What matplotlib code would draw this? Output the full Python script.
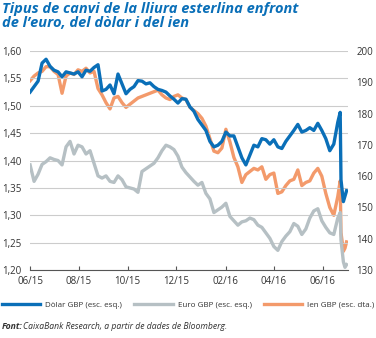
import pandas as pd
import matplotlib.pyplot as plt
import matplotlib.dates as mdates
from matplotlib.ticker import FuncFormatter

# dates: every 5 days from 01/06/2015, plus the days around the referendum
dates = list(pd.date_range('2015-06-01', periods=78, freq='5D')) + \
    list(pd.to_datetime(['2016-06-23', '2016-06-24', '2016-06-27', '2016-06-29', '2016-07-01']))

# GBP/USD (left axis)
usd = [1.525, 1.535, 1.545, 1.578, 1.585, 1.572, 1.565, 1.562, 1.553, 1.562,
       1.560, 1.558, 1.562, 1.553, 1.565, 1.563, 1.570, 1.575, 1.527, 1.530,
       1.538, 1.522, 1.558, 1.540, 1.522, 1.530, 1.535, 1.546, 1.545, 1.540,
       1.542, 1.535, 1.530, 1.528, 1.525, 1.518, 1.512, 1.505, 1.513, 1.512,
       1.498, 1.490, 1.475, 1.465, 1.455, 1.435, 1.425, 1.428, 1.435, 1.452,
       1.445, 1.445, 1.425, 1.405, 1.392, 1.410, 1.428, 1.425, 1.440, 1.438,
       1.430, 1.438, 1.425, 1.422, 1.435, 1.445, 1.455, 1.466, 1.452, 1.455,
       1.460, 1.455, 1.468, 1.455, 1.440, 1.418, 1.430, 1.470,
       1.488, 1.365, 1.325, 1.335, 1.345]

# GBP/EUR (left axis)
eur = [1.392, 1.362, 1.375, 1.393, 1.398, 1.405, 1.402, 1.400, 1.392, 1.425,
       1.435, 1.412, 1.428, 1.425, 1.412, 1.418, 1.395, 1.372, 1.368, 1.372,
       1.362, 1.360, 1.372, 1.365, 1.352, 1.350, 1.348, 1.342, 1.380, 1.385,
       1.390, 1.395, 1.405, 1.418, 1.428, 1.425, 1.420, 1.408, 1.388, 1.378,
       1.370, 1.362, 1.355, 1.360, 1.340, 1.330, 1.305, 1.310, 1.315, 1.322,
       1.298, 1.290, 1.282, 1.288, 1.290, 1.295, 1.292, 1.282, 1.278, 1.268,
       1.258, 1.243, 1.236, 1.252, 1.262, 1.270, 1.285, 1.280, 1.265, 1.275,
       1.295, 1.308, 1.312, 1.290, 1.278, 1.268, 1.265, 1.295,
       1.305, 1.255, 1.215, 1.205, 1.210]

# GBP/JPY (right axis)
jpy = [190.5, 192.0, 193.0, 193.5, 195.0, 195.0, 193.5, 192.5, 186.5, 192.0,
       193.0, 192.5, 194.0, 193.5, 194.5, 193.0, 193.5, 188.0, 186.0, 183.5,
       181.5, 185.0, 185.5, 183.5, 182.0, 183.0, 184.0, 185.0, 185.5, 186.0,
       186.5, 187.0, 187.5, 186.0, 185.0, 184.5, 185.5, 186.0, 185.0, 184.5,
       182.0, 181.0, 180.0, 178.5, 176.0, 172.0, 168.0, 167.5, 169.0, 175.0,
       171.0, 166.0, 163.0, 158.0, 160.5, 161.5, 162.5, 162.0, 163.0, 159.0,
       160.5, 161.0, 154.5, 155.0, 157.0, 158.5, 159.0, 162.0, 157.0, 158.0,
       158.5, 161.0, 162.5, 160.0, 154.5, 150.0, 147.5, 153.5,
       158.5, 142.0, 136.0, 137.0, 139.0]

left_ticks = [1.20, 1.25, 1.30, 1.35, 1.40, 1.45, 1.50, 1.55, 1.60]
right_ticks = [130, 140, 150, 160, 170, 180, 190, 200]
x_ticks = pd.to_datetime(['2015-06-01', '2015-08-01', '2015-10-01', '2015-12-01',
                          '2016-02-01', '2016-04-01', '2016-06-01'])

c_usd = '#0a6fb8'
c_eur = '#b6c0c4'
c_jpy = '#f39a6b'
c_txt = '#333333'

plt.rcParams['font.family'] = ['Open Sans', 'DejaVu Sans']

fig = plt.figure(figsize=(3.76, 3.38), dpi=100)
ax = fig.add_axes([0.080, 0.201, 0.846, 0.648])
ax2 = ax.twinx()

ax.plot(dates, eur, color=c_eur, lw=2.4, label='Euro GBP (esc. esq.)', zorder=3)
ax2.plot(dates, jpy, color=c_jpy, lw=2.4, label='Ien GBP (esc. dta.)', zorder=3)
ax.plot(dates, usd, color=c_usd, lw=2.4, label='Dòlar GBP (esc. esq.)', zorder=4)
# keep the dollar line above the yen line
ax.set_zorder(ax2.get_zorder() + 1)
ax.patch.set_visible(False)

ax.set_ylim(1.20, 1.60)
ax2.set_ylim(130, 200)
ax.set_xlim(pd.Timestamp('2015-06-01'), pd.Timestamp('2016-07-03'))

ax.set_yticks(left_ticks)
ax.yaxis.set_major_formatter(FuncFormatter(lambda v, p: f'{v:.2f}'.replace('.', ',')))
ax2.set_yticks(right_ticks)
ax.set_xticks(x_ticks)
ax.xaxis.set_major_formatter(mdates.DateFormatter('%m/%y'))

for a in (ax, ax2):
    for s in ('top', 'left', 'right'):
        a.spines[s].set_visible(False)
ax2.spines['bottom'].set_visible(False)
ax.spines['bottom'].set_color('#555555')
ax.spines['bottom'].set_linewidth(0.8)

ax.grid(axis='y', color='#cccccc', lw=0.8)
ax.tick_params(axis='y', length=0, labelsize=7, labelcolor=c_txt, pad=6)
ax2.tick_params(axis='y', length=0, labelsize=7, labelcolor=c_txt, pad=6)
ax.tick_params(axis='x', direction='in', length=3, width=0.8, color='#555555',
               labelsize=7, labelcolor=c_txt, pad=4)

fig.text(0.005, 0.995, 'Tipus de canvi de la lliura esterlina enfront\nde l\u2019euro, del dòlar i del ien',
         ha='left', va='top', fontsize=10.5, fontweight='bold', fontstyle='italic',
         color='#0a6fb8', linespacing=1.05)

h1, l1 = ax.get_legend_handles_labels()
h2, l2 = ax2.get_legend_handles_labels()
handles = [h1[1], h1[0], h2[0]]
labels = [l1[1], l1[0], l2[0]]
fig.legend(handles, labels, loc='center', bbox_to_anchor=(0.5, 0.098), ncol=3,
           frameon=False, fontsize=5.8, handlelength=4.8, handletextpad=0.6,
           columnspacing=1.5, labelcolor=c_txt)

fig.text(0.005, 0.035, 'Font:', fontsize=6.2, fontweight='bold', fontstyle='italic',
         color=c_txt, ha='left', va='center')
fig.text(0.062, 0.035, 'CaixaBank Research, a partir de dades de Bloomberg.', fontsize=6.2,
         fontstyle='italic', color=c_txt, ha='left', va='center')

fig.savefig('out.png', dpi=100)
